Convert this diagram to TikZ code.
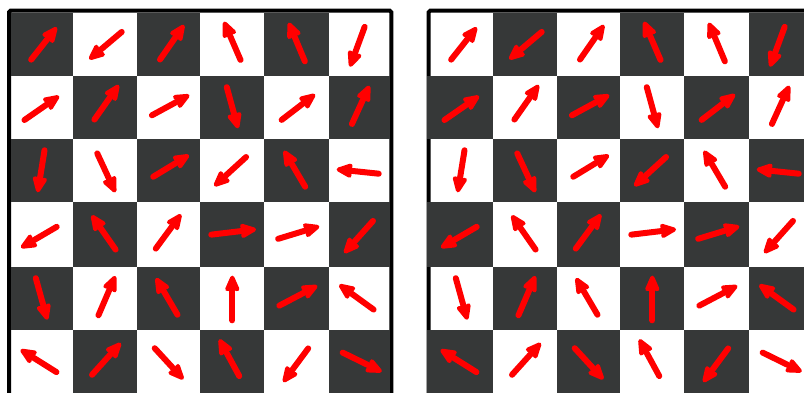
\documentclass[tikz,border=0pt]{standalone}
\usetikzlibrary{arrows.meta}
\definecolor{cellDark}{RGB}{54,56,56}
\definecolor{arrRed}{RGB}{255,0,0}
\tikzset{
  darkcell/.style={fill=cellDark,draw=none},
  frame/.style={draw=black,line width=4pt,rounded corners=1.5pt},
  spin/.style={draw=arrRed,line width=6pt,line cap=round,shorten <=3pt,
    -{Stealth[length=20pt,width=17pt,inset=3pt,round]}}
}
\begin{document}
\begin{tikzpicture}[x=1pt,y=-1pt]
\useasboundingbox (0,0) rectangle (804,392);
\fill[white] (0,0) rectangle (804,392);
% column / row edges (left grid)
\def\cx{{11,73,137,200,264,328.5,390}}
\def\ry{{13,75.5,138.5,202,266.5,330,396}}
% frames
\draw[frame] (9,420) -- (9,10.7) -- (391.3,10.7) -- (391.3,420);
\draw[frame] (428.7,420) -- (428.7,10.7) -- (830,10.7);
% cells: left grid dark when (i+j) even, right grid dark when odd
\foreach \i in {0,...,5}{
  \foreach \j in {0,...,5}{
    \pgfmathsetmacro{\xa}{\cx[\i]}
    \pgfmathsetmacro{\xb}{\cx[\i+1]}
    \pgfmathsetmacro{\ya}{\ry[\j]}
    \pgfmathsetmacro{\yb}{\ry[\j+1]}
    \pgfmathtruncatemacro{\myparity}{mod(\i+\j,2)}
    \ifnum\myparity=0
      \fill[darkcell] (\xa,\ya) rectangle (\xb,\yb);
    \else
      \pgfmathsetmacro{\xra}{ifthenelse(\i==0,426.7,\xa+420)}
      \pgfmathsetmacro{\xrb}{ifthenelse(\i==5,820,\xb+420)}
      \fill[darkcell] (\xra,\ya) rectangle (\xrb,\yb);
    \fi
  }
}
% arrows (same field in both grids)
\foreach \dx in {0,420}{
  \begin{scope}[xshift=\dx]
  \foreach \ax/\ay/\bx/\by in {
    29.3/62/56.7/27.3, 124/30/89.3/59.3, 158.3/62/184/25, 241.7/62.7/224/21.7, 306/64/288.7/22.7, 365.7/24/350/66.7,
    22/121.7/59/96, 92.7/122/118.7/85, 149.3/116.7/189.3/95, 226/84.3/238/128.3, 279.3/121.7/315/94.3, 350.7/126.7/369.3/85.7,
    45/147.3/37.7/192.3, 96/150.7/115.3/192.3, 150.7/178.3/189/155, 248.3/155/214.3/186, 306.7/189.3/284/150.7, 381.7/174/336.7/169.3,
    59.3/225.3/21/247.7, 117.3/252/91.7/215.3, 154/251/181/214.3, 208.3/235/256/229.3, 275.3/239.7/319.3/226.3, 375/218.7/344.3/253,
    35/275.3/47.3/319.7, 97.3/318/115.3/276, 179/317.3/156/278, 232.3/323.3/232.3/275.7, 276.7/307/317.3/285.7, 376/311.3/339.3/284.7,
    59/373.7/20.7/349.7, 90/377/120.7/343, 152.7/346/183.3/379.3, 240.7/378.7/219.3/339.3, 310/346/283.3/382, 340/351.3/381.7/371.7}{
    \coordinate (t) at (\ax,\ay);
    \coordinate (h) at (\bx,\by);
    \draw[spin] (t) -- (h);
  }
  \end{scope}
}
\end{tikzpicture}
\end{document}
